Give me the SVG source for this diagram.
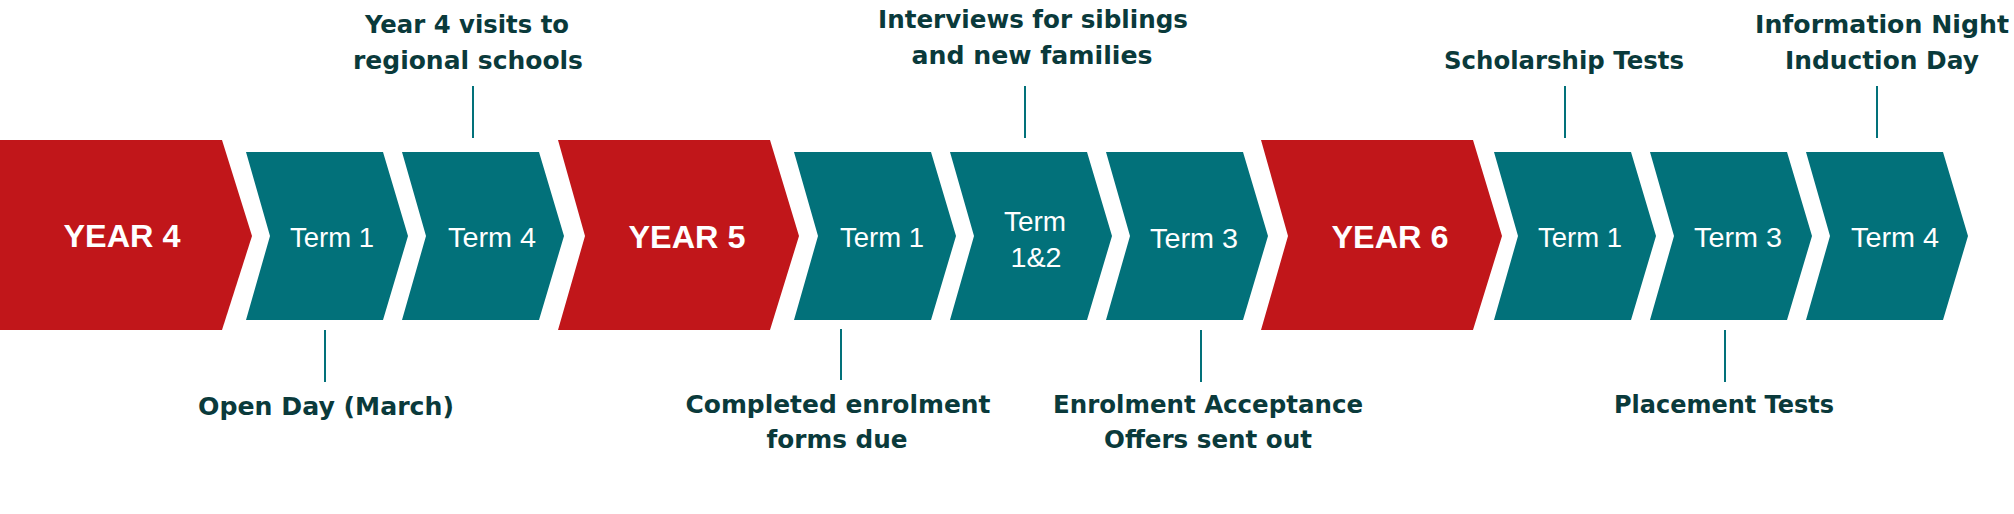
<svg xmlns="http://www.w3.org/2000/svg" width="2014" height="514" viewBox="0 0 2014 514">
<style>
.red{fill:#C1161A}
.teal{fill:#02717A}
.yt{font-family:"Liberation Sans",Arial,sans-serif;font-weight:bold;font-size:32px;fill:#FFFFFF;text-anchor:middle}
.tt{font-family:"Liberation Sans",Arial,sans-serif;font-size:27px;fill:#FFFFFF;text-anchor:middle}
.lb{font-family:"DejaVu Sans","Liberation Sans",sans-serif;font-weight:bold;font-size:24px;fill:#0A3A3B;text-anchor:middle}
.ln{stroke:#02717A;stroke-width:2;fill:none}
</style>
<rect width="2014" height="514" fill="#FFFFFF"/>
<g id="year4"><polygon class="red" points="0,140 222,140 252,236 222,330 0,330"/><text class="yt" x="122" y="247" textLength="117" lengthAdjust="spacingAndGlyphs">YEAR 4</text></g>
<g id="y4-term1"><polygon class="teal" points="246,152 383,152 408,236 383,320 246,320 270,236"/><text class="tt" x="332" y="247" textLength="84" lengthAdjust="spacingAndGlyphs">Term 1</text></g>
<g id="y4-term4"><polygon class="teal" points="402,152 539,152 564,236 539,320 402,320 426,236"/><text class="tt" x="492" y="247" textLength="88" lengthAdjust="spacingAndGlyphs">Term 4</text></g>
<g id="year5"><polygon class="red" points="558,140 770,140 799,236 770,330 558,330 585,236"/><text class="yt" x="687" y="248" textLength="117" lengthAdjust="spacingAndGlyphs">YEAR 5</text></g>
<g id="y5-term1"><polygon class="teal" points="794,152 931,152 956,236 931,320 794,320 818,236"/><text class="tt" x="882" y="247" textLength="84" lengthAdjust="spacingAndGlyphs">Term 1</text></g>
<g id="y5-term12"><polygon class="teal" points="950,152 1087,152 1112,236 1087,320 950,320 974,236"/><text class="tt" x="1035" y="231" textLength="62" lengthAdjust="spacingAndGlyphs">Term</text><text class="tt" x="1036" y="267" textLength="51" lengthAdjust="spacingAndGlyphs">1&amp;2</text></g>
<g id="y5-term3"><polygon class="teal" points="1106,152 1243,152 1268,236 1243,320 1106,320 1130,236"/><text class="tt" x="1194" y="248" textLength="88" lengthAdjust="spacingAndGlyphs">Term 3</text></g>
<g id="year6"><polygon class="red" points="1261,140 1473,140 1502,236 1473,330 1261,330 1288,236"/><text class="yt" x="1390" y="248" textLength="117" lengthAdjust="spacingAndGlyphs">YEAR 6</text></g>
<g id="y6-term1"><polygon class="teal" points="1494,152 1631,152 1656,236 1631,320 1494,320 1518,236"/><text class="tt" x="1580" y="247" textLength="84" lengthAdjust="spacingAndGlyphs">Term 1</text></g>
<g id="y6-term3"><polygon class="teal" points="1650,152 1787,152 1812,236 1787,320 1650,320 1674,236"/><text class="tt" x="1738" y="247" textLength="88" lengthAdjust="spacingAndGlyphs">Term 3</text></g>
<g id="y6-term4"><polygon class="teal" points="1806,152 1943,152 1968,236 1943,320 1806,320 1830,236"/><text class="tt" x="1895" y="247" textLength="88" lengthAdjust="spacingAndGlyphs">Term 4</text></g>
<g id="connectors">
<line class="ln" x1="473" y1="86" x2="473" y2="138"/>
<line class="ln" x1="325" y1="330" x2="325" y2="382"/>
<line class="ln" x1="1025" y1="86" x2="1025" y2="138"/>
<line class="ln" x1="841" y1="329" x2="841" y2="380"/>
<line class="ln" x1="1201" y1="330" x2="1201" y2="382"/>
<line class="ln" x1="1565" y1="86" x2="1565" y2="138"/>
<line class="ln" x1="1877" y1="86" x2="1877" y2="138"/>
<line class="ln" x1="1725" y1="330" x2="1725" y2="382"/>
</g>
<g id="label-visits"><text class="lb" x="467" y="33" textLength="204" lengthAdjust="spacingAndGlyphs">Year 4 visits to</text><text class="lb" x="468" y="69" textLength="230" lengthAdjust="spacingAndGlyphs">regional schools</text></g>
<g id="label-openday"><text class="lb" x="326" y="415" textLength="256" lengthAdjust="spacingAndGlyphs">Open Day (March)</text></g>
<g id="label-interviews"><text class="lb" x="1033" y="28" textLength="310" lengthAdjust="spacingAndGlyphs">Interviews for siblings</text><text class="lb" x="1032" y="64" textLength="241" lengthAdjust="spacingAndGlyphs">and new families</text></g>
<g id="label-forms"><text class="lb" x="838" y="413" textLength="305" lengthAdjust="spacingAndGlyphs">Completed enrolment</text><text class="lb" x="837" y="448" textLength="141" lengthAdjust="spacingAndGlyphs">forms due</text></g>
<g id="label-offers"><text class="lb" x="1208" y="413" textLength="310" lengthAdjust="spacingAndGlyphs">Enrolment Acceptance</text><text class="lb" x="1208" y="448" textLength="208" lengthAdjust="spacingAndGlyphs">Offers sent out</text></g>
<g id="label-scholarship"><text class="lb" x="1564" y="69" textLength="240" lengthAdjust="spacingAndGlyphs">Scholarship Tests</text></g>
<g id="label-info"><text class="lb" x="1882" y="33" textLength="254" lengthAdjust="spacingAndGlyphs">Information Night</text><text class="lb" x="1882" y="69" textLength="194" lengthAdjust="spacingAndGlyphs">Induction Day</text></g>
<g id="label-placement"><text class="lb" x="1724" y="413" textLength="220" lengthAdjust="spacingAndGlyphs">Placement Tests</text></g>
</svg>
